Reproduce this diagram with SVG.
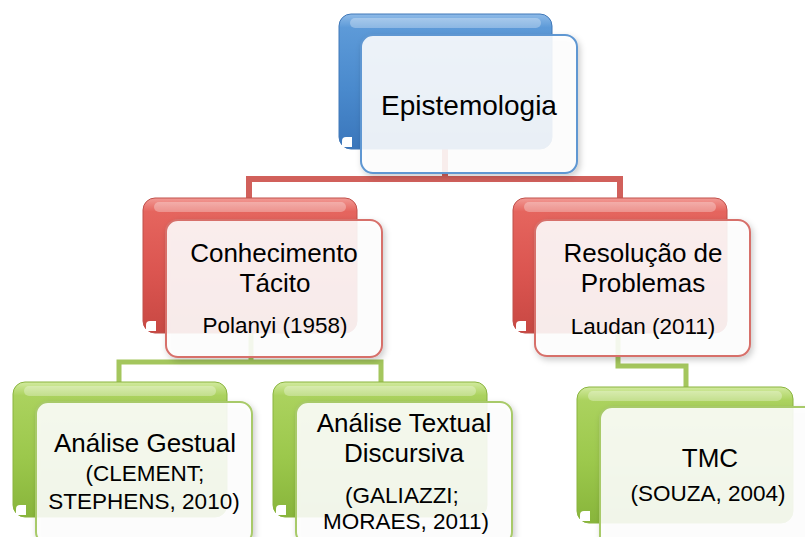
<svg xmlns="http://www.w3.org/2000/svg" width="805" height="537" viewBox="0 0 805 537">
<defs>
  <linearGradient id="gB" x1="0" y1="0" x2="0" y2="1">
    <stop offset="0" stop-color="#8fbbe8"/>
    <stop offset="0.1" stop-color="#5d9ad8"/>
    <stop offset="0.55" stop-color="#4a8acd"/>
    <stop offset="1" stop-color="#3a76bb"/>
  </linearGradient>
  <linearGradient id="gR" x1="0" y1="0" x2="0" y2="1">
    <stop offset="0" stop-color="#f29a95"/>
    <stop offset="0.1" stop-color="#e5655e"/>
    <stop offset="0.55" stop-color="#db5550"/>
    <stop offset="1" stop-color="#c84843"/>
  </linearGradient>
  <linearGradient id="gG" x1="0" y1="0" x2="0" y2="1">
    <stop offset="0" stop-color="#d2ea9f"/>
    <stop offset="0.1" stop-color="#abd25e"/>
    <stop offset="0.55" stop-color="#9cc84c"/>
    <stop offset="1" stop-color="#88b53b"/>
  </linearGradient>
  <filter id="sh" x="-10%" y="-10%" width="125%" height="125%">
    <feDropShadow dx="2" dy="3" stdDeviation="3" flood-color="#000" flood-opacity="0.22"/>
  </filter>
</defs>
<style>
  .t{font-family:"Liberation Sans",Arial,sans-serif;fill:#000;text-anchor:middle}
  .m{font-size:26px}
  .r{font-size:22.5px}
  .cr{fill:none;stroke:#d1605b;stroke-width:6}
  .cg{fill:none;stroke:#a4c65d;stroke-width:5}
  .bb{fill:url(#gB);stroke:#4178b8;stroke-width:1}
  .br{fill:url(#gR);stroke:#c0504b;stroke-width:1}
  .bg{fill:url(#gG);stroke:#8ab43f;stroke-width:1}
  .hl{fill:#ffffff;opacity:0.3}
  .notch{fill:#ffffff}
  .fb{fill:#ffffff;fill-opacity:0.88;stroke:#5f97d2;stroke-width:2;filter:url(#sh)}
  .fr{fill:#ffffff;fill-opacity:0.88;stroke:#d7706b;stroke-width:2;filter:url(#sh)}
  .fg{fill:#ffffff;fill-opacity:0.88;stroke:#a8ca69;stroke-width:2;filter:url(#sh)}
</style>

<g id="connectors">
  <path class="cr" d="M445,149 V179 M249,198 V179 H620 V198"/>
  <path class="cg" d="M251,333 V362 H119 V382 M251,362 H381 V382"/>
  <path class="cg" d="M618,333 V366 H686 V387"/>
</g>

<g id="node-epistemologia">
  <rect class="bb" x="339" y="14" width="213" height="135" rx="12"/>
  <rect class="hl" x="350" y="18" width="191" height="10" rx="5"/>
  <path class="notch" d="M342,147 v-6 q0,-4 4,-4 h6 v10 z"/>
  <rect class="fb" x="361" y="35" width="216" height="138" rx="12"/>
  <text class="t" x="469" y="115" font-size="28">Epistemologia</text>
</g>

<g id="node-conhecimento">
  <rect class="br" x="143" y="198" width="214" height="135" rx="12"/>
  <rect class="hl" x="154" y="202" width="192" height="10" rx="5"/>
  <path class="notch" d="M146,331 v-6 q0,-4 4,-4 h6 v10 z"/>
  <rect class="fr" x="166" y="220" width="216" height="137" rx="12"/>
  <text class="t"><tspan class="m" x="274" y="262">Conhecimento</tspan><tspan class="m" x="275" y="292">Tácito</tspan><tspan class="r" x="275" y="333">Polanyi (1958)</tspan></text>
</g>

<g id="node-resolucao">
  <rect class="br" x="513" y="198" width="214" height="135" rx="12"/>
  <rect class="hl" x="524" y="202" width="192" height="10" rx="5"/>
  <path class="notch" d="M516,331 v-6 q0,-4 4,-4 h6 v10 z"/>
  <rect class="fr" x="535" y="220" width="215" height="136" rx="12"/>
  <text class="t"><tspan class="m" x="643" y="262">Resolução de</tspan><tspan class="m" x="643" y="292">Problemas</tspan><tspan class="r" x="643" y="334">Laudan (2011)</tspan></text>
</g>

<g id="node-gestual">
  <rect class="bg" x="13" y="382" width="214" height="135" rx="12"/>
  <rect class="hl" x="24" y="386" width="192" height="10" rx="5"/>
  <path class="notch" d="M16,515 v-6 q0,-4 4,-4 h6 v10 z"/>
  <rect class="fg" x="36" y="402" width="216" height="142" rx="12"/>
  <text class="t"><tspan class="m" x="145" y="452">Análise Gestual</tspan><tspan class="r" x="145" y="481">(CLEMENT;</tspan><tspan class="r" x="144" y="509">STEPHENS, 2010)</tspan></text>
</g>

<g id="node-textual">
  <rect class="bg" x="273" y="382" width="214" height="135" rx="12"/>
  <rect class="hl" x="284" y="386" width="192" height="10" rx="5"/>
  <path class="notch" d="M276,515 v-6 q0,-4 4,-4 h6 v10 z"/>
  <rect class="fg" x="296" y="402" width="216" height="142" rx="12"/>
  <text class="t"><tspan class="m" x="404" y="432">Análise Textual</tspan><tspan class="m" x="404" y="462">Discursiva</tspan><tspan class="r" x="402" y="503">(GALIAZZI;</tspan><tspan class="r" x="406" y="529">MORAES, 2011)</tspan></text>
</g>

<g id="node-tmc">
  <rect class="bg" x="577" y="387" width="216" height="136" rx="12"/>
  <rect class="hl" x="588" y="391" width="194" height="10" rx="5"/>
  <path class="notch" d="M580,521 v-6 q0,-4 4,-4 h6 v10 z"/>
  <rect class="fg" x="600" y="407" width="220" height="142" rx="12"/>
  <text class="t"><tspan class="m" x="710" y="467">TMC</tspan><tspan class="r" x="708" y="501">(SOUZA, 2004)</tspan></text>
</g>
</svg>
